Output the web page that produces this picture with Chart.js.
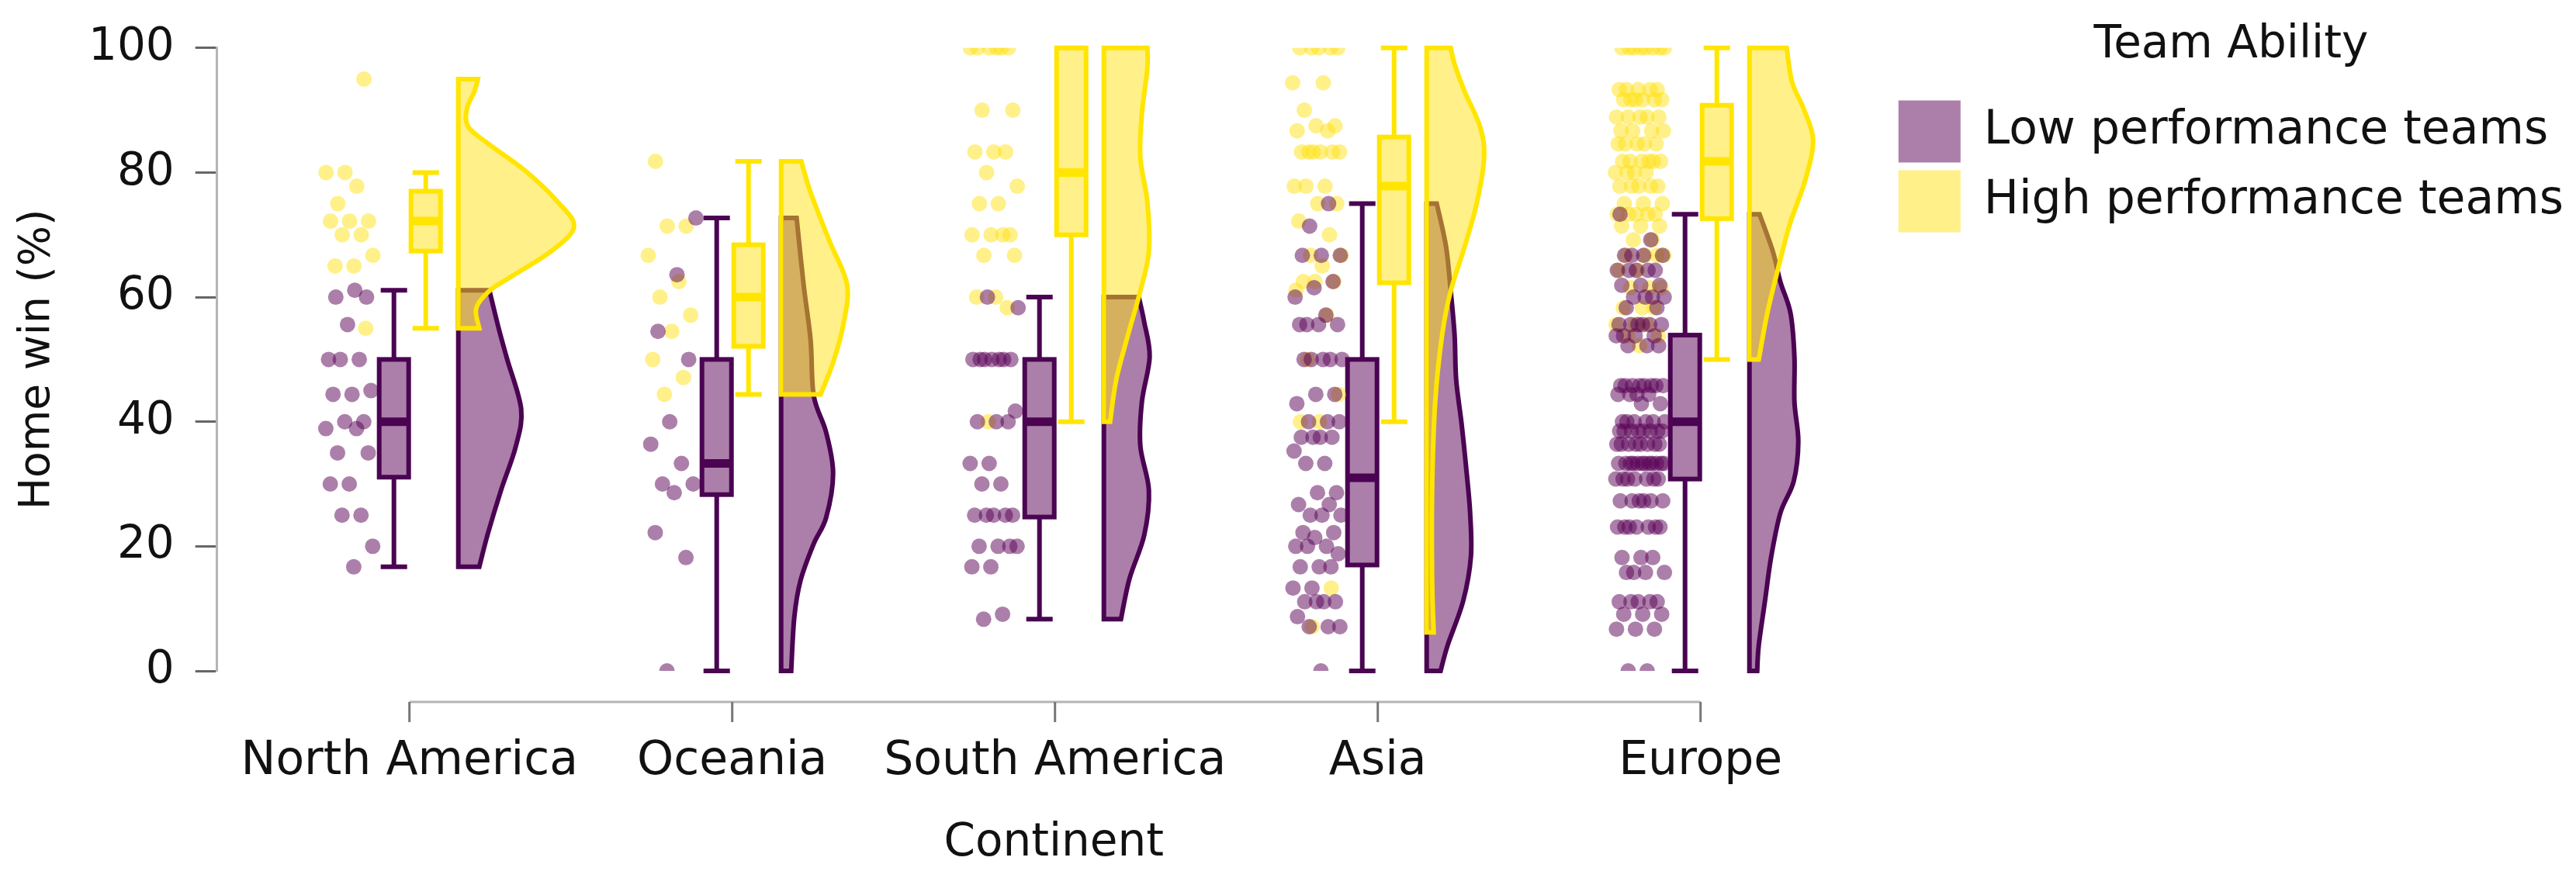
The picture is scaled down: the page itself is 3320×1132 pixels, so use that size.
<!DOCTYPE html>
<html>
<head>
<meta charset="utf-8">
<script src="https://cdn.jsdelivr.net/npm/chart.js@4.4.1/dist/chart.umd.min.js"></script>
<style>
  html, body { margin: 0; padding: 0; background: #fff; }
  #wrap { width: 3320px; height: 1132px; }
</style>
</head>
<body>
<div id="wrap"><canvas id="rain" width="3320" height="1132"></canvas></div>
<script>
const continents = ['North America', 'Oceania', 'South America', 'Asia', 'Europe'];
const yTicks = [0, 20, 40, 60, 80, 100];

// home win % per team (jittered dots)
const lowNorthAmerica = [61.1, 60, 60, 55.6, 50, 50, 50, 45, 44.4, 44.4, 40, 40, 38.9, 38.9, 35, 35, 30, 30, 25, 25, 20, 16.7];
const highNorthAmerica = [95, 80, 80, 77.8, 75, 72.2, 72.2, 72.2, 70, 70, 66.7, 65, 65, 55];
const lowOceania = [72.7, 63.6, 54.5, 50, 40, 36.4, 33.3, 30, 30, 28.6, 22.2, 18.2, 0];
const highOceania = [81.8, 71.4, 71.4, 66.7, 62.5, 60, 57.1, 54.5, 50, 47.1, 44.4];
const lowSouthAmerica = [60, 58.3, 50, 50, 50, 50, 50, 50, 50, 41.7, 40, 40, 40, 33.3, 33.3, 30, 30,
  25, 25, 25, 25, 25, 20, 20, 20, 20, 16.7, 16.7, 9.1, 8.3];
const highSouthAmerica = [100, 100, 100, 100, 100, 100, 90, 90, 83.3, 83.3, 83.3, 80, 77.8, 75, 75,
  70, 70, 70, 70, 66.7, 66.7, 60, 60, 58.3, 40];
const lowAsia = [75, 71.4, 66.7, 66.7, 66.7, 62.5, 61.5, 60, 57.1, 55.6, 55.6, 55.6, 55.6, 50, 50, 50, 50, 50,
  44.4, 44.4, 42.9, 40, 40, 40, 37.5, 37.5, 37.5, 37.5, 35.3, 33.3, 33.3, 28.6, 28.6, 26.7, 26.7,
  25, 25, 25, 22.2, 22.2, 21.4, 20, 20, 20, 18.8, 16.7, 16.7, 16.7, 13.3, 13.3,
  11.1, 11.1, 11.1, 11.1, 8.7, 7.1, 7.1, 7.1, 0];
const highAsia = [100, 100, 100, 100, 100, 94.4, 94.4, 90, 87.5, 87.5, 86.7, 86.7,
  83.3, 83.3, 83.3, 83.3, 83.3, 83.3, 77.8, 77.8, 77.8, 75, 75, 72.2, 70, 66.7, 66.7, 65,
  62.5, 62.5, 62.5, 61.1, 57.1, 50, 44.4, 40, 40, 13.3, 7.1];
const lowEurope = [73.3, 69.2, 66.7, 66.7, 66.7, 66.7, 64.3, 64.3, 64.3, 64.3, 64.3, 61.9, 61.9, 61.9,
  60, 60, 60, 60, 58.3, 58.3, 55.6, 55.6, 55.6, 55.6, 55.6, 55.6, 53.8, 53.8, 53.8, 53.8, 52.2, 52.2, 52.2,
  45.8, 45.8, 45.8, 45.8, 45.8, 45.8, 45.8, 45.8, 44.4, 44.4, 44.4, 44.4, 42.9, 42.9,
  40, 40, 40, 40, 40, 40, 38.5, 38.5, 38.5, 38.5, 38.5, 38.5, 38.5, 38.5,
  36.4, 36.4, 36.4, 36.4, 36.4, 36.4, 36.4, 36.4,
  33.3, 33.3, 33.3, 33.3, 33.3, 33.3, 33.3, 33.3, 33.3, 33.3, 33.3, 33.3,
  30.8, 30.8, 30.8, 30.8, 30.8, 30.8, 30.8, 27.3, 27.3, 27.3, 27.3, 27.3, 27.3,
  23.1, 23.1, 23.1, 23.1, 23.1, 23.1, 23.1, 18.2, 18.2, 18.2, 15.8, 15.8, 15.8, 15.8,
  11.1, 11.1, 11.1, 11.1, 11.1, 9.1, 9.1, 9.1, 6.7, 6.7, 6.7, 0, 0];
const highEurope = [100, 100, 100, 100, 100, 100, 100, 100, 93.3, 93.3, 93.3, 93.3, 93.3,
  91.7, 91.7, 91.7, 91.7, 91.7, 91.7, 88.9, 88.9, 88.9, 88.9, 88.9, 86.7, 86.7, 86.7, 86.7,
  84.6, 84.6, 84.6, 84.6, 84.6, 81.8, 81.8, 81.8, 81.8, 81.8, 81.8, 80, 80, 80, 80,
  77.8, 77.8, 77.8, 77.8, 77.8, 75, 75, 75, 73.3, 73.3, 73.3, 73.3, 73.3, 71.4, 71.4, 71.4,
  69.2, 69.2, 66.7, 66.7, 66.7, 66.7, 64.3, 64.3, 61.5, 61.5, 61.5, 58.3, 58.3, 58.3,
  55.6, 55.6, 55.6, 53.8, 53.8, 52.2];

// box plots (whisker low, Q1, median, Q3, whisker high), one entry per continent
const lowMin = [16.7, 0, 8.3, 0, 0];
const lowQ1 = [31.1, 28.3, 24.7, 17, 30.8];
const lowMed = [40, 33.3, 40, 31, 40];
const lowQ3 = [50, 50, 50, 50, 53.9];
const lowMax = [61.1, 72.7, 60, 75, 73.3];
const highMin = [55, 44.4, 40, 40, 50];
const highQ1 = [67.4, 52.1, 70, 62.3, 72.6];
const highMed = [72.2, 60, 80, 77.8, 81.8];
const highQ3 = [77, 68.4, 100, 85.7, 90.8];
const highMax = [80, 81.8, 100, 100, 100];

// half violins (the clouds): density read at a few levels
const lowViolinAt = [
  [16.7, 22, 29, 36, 42, 50, 55, 61.1],
  [0, 8.6, 14.5, 20.4, 24.6, 31.7, 38.3, 44.2, 53.1, 62, 72.7],
  [8.3, 14.8, 21.8, 29, 36.1, 43.2, 50.4, 56, 60],
  [0, 4.1, 11.2, 18.3, 25.4, 32.5, 39.7, 46.8, 53.9, 61, 68.1, 75],
  [0, 4.1, 11.2, 18.3, 25.4, 30.4, 36.8, 43.2, 50.4, 57.4, 62.4, 67.4, 73.3]
];
const lowViolinDensity = [
  [0.27, 0.38, 0.55, 0.74, 0.81, 0.63, 0.52, 0.40],
  [0.13, 0.17, 0.25, 0.42, 0.58, 0.67, 0.58, 0.42, 0.38, 0.29, 0.20],
  [0.22, 0.33, 0.52, 0.58, 0.47, 0.49, 0.59, 0.52, 0.45],
  [0.18, 0.27, 0.47, 0.57, 0.56, 0.51, 0.45, 0.38, 0.36, 0.31, 0.25, 0.13],
  [0.10, 0.12, 0.20, 0.28, 0.40, 0.57, 0.63, 0.58, 0.58, 0.53, 0.40, 0.30, 0.13]
];
const highViolinAt = [
  [55, 58.2, 61, 63.2, 67.4, 71.3, 75.3, 80.3, 84.5, 87.3, 90.2, 93.1, 95],
  [44.4, 49.5, 55.5, 62, 69.1, 76.8, 81.8],
  [40, 46.8, 53.9, 61, 67.4, 75.3, 82.4, 89.5, 96.6, 100],
  [6.2, 14.8, 29, 43.2, 54, 61, 68.1, 75.3, 82.4, 87.3, 93, 97.4, 100],
  [50, 57.4, 64.6, 71.7, 78.8, 85.2, 90.2, 94.5, 100]
];
const highViolinDensity = [
  [0.27, 0.23, 0.40, 0.67, 1.20, 1.49, 1.28, 0.86, 0.40, 0.13, 0.11, 0.21, 0.25],
  [0.51, 0.67, 0.80, 0.85, 0.62, 0.38, 0.26],
  [0.08, 0.16, 0.31, 0.47, 0.58, 0.56, 0.47, 0.49, 0.56, 0.56],
  [0.09, 0.07, 0.07, 0.11, 0.20, 0.31, 0.49, 0.65, 0.74, 0.69, 0.49, 0.36, 0.31],
  [0.12, 0.23, 0.37, 0.52, 0.72, 0.82, 0.70, 0.55, 0.48]
];

const FONT = 'DejaVu Sans';
const PURPLE = '#4a0452';
const PURPLE_FILL = 'rgba(90, 0, 85, 0.5)';
const YELLOW = '#ffe500';
const YELLOW_FILL = 'rgba(255, 226, 20, 0.5)';
const UNIT_PX = 416;             // px between two continents
const u = p => p / UNIT_PX;      // px -> x units

// fixed jitter so the rain is spread the same way every time
function jitter(i, g) {
  const f = ((i + 1) * 0.6180339887 + g * 0.37) % 1;
  return u(-78) + (f * 2 - 1) * u(32);
}

function toPoints(groups, shift) {
  const pts = [];
  groups.forEach((vals, g) => {
    vals.forEach((v, i) => pts.push({ x: g + jitter(i, g + shift), y: v }));
  });
  return pts;
}

function drawViolin(ctx, xs, ys, i, levels, dens, fill, stroke) {
  const start = i + u(63);
  const base = xs.getPixelForValue(start);
  const pts = levels.map((v, k) => [xs.getPixelForValue(start + dens[k] * u(100)), ys.getPixelForValue(v)]);
  ctx.beginPath();
  ctx.moveTo(base, pts[0][1]);
  ctx.lineTo(pts[0][0], pts[0][1]);
  for (let k = 0; k < pts.length - 1; k++) {
    const p0 = pts[Math.max(k - 1, 0)], p1 = pts[k], p2 = pts[k + 1], p3 = pts[Math.min(k + 2, pts.length - 1)];
    ctx.bezierCurveTo(
      p1[0] + (p2[0] - p0[0]) / 6, p1[1] + (p2[1] - p0[1]) / 6,
      p2[0] - (p3[0] - p1[0]) / 6, p2[1] - (p3[1] - p1[1]) / 6,
      p2[0], p2[1]);
  }
  ctx.lineTo(base, pts[pts.length - 1][1]);
  ctx.closePath();
  ctx.fillStyle = fill;
  ctx.fill();
  ctx.lineWidth = 6;
  ctx.lineJoin = 'miter';
  ctx.strokeStyle = stroke;
  ctx.stroke();
}

function drawBox(ctx, xs, ys, cx, stats, fill, stroke) {
  const [lo, q1, med, q3, hi] = stats.map(v => ys.getPixelForValue(v));
  const l = xs.getPixelForValue(cx - u(19)), r = xs.getPixelForValue(cx + u(19));
  const cl = xs.getPixelForValue(cx - u(17)), cr = xs.getPixelForValue(cx + u(17));
  const mid = xs.getPixelForValue(cx);
  ctx.strokeStyle = stroke;
  ctx.lineWidth = 6;
  ctx.beginPath();
  ctx.moveTo(mid, lo); ctx.lineTo(mid, q1);
  ctx.moveTo(mid, q3); ctx.lineTo(mid, hi);
  ctx.moveTo(cl, lo); ctx.lineTo(cr, lo);
  ctx.moveTo(cl, hi); ctx.lineTo(cr, hi);
  ctx.stroke();
  ctx.fillStyle = fill;
  ctx.fillRect(l, q3, r - l, q1 - q3);
  ctx.strokeRect(l, q3, r - l, q1 - q3);
  ctx.lineWidth = 11;
  ctx.beginPath();
  ctx.moveTo(l, med); ctx.lineTo(r, med);
  ctx.stroke();
}

const raincloud = {
  id: 'raincloud',
  beforeDatasetsDraw(chart) {
    const { ctx, scales: { x, y } } = chart;
    ctx.save();
    continents.forEach((c, i) => {
      drawViolin(ctx, x, y, i, lowViolinAt[i], lowViolinDensity[i], PURPLE_FILL, PURPLE);
      drawViolin(ctx, x, y, i, highViolinAt[i], highViolinDensity[i], YELLOW_FILL, YELLOW);
      drawBox(ctx, x, y, i - u(20), [lowMin[i], lowQ1[i], lowMed[i], lowQ3[i], lowMax[i]], PURPLE_FILL, PURPLE);
      drawBox(ctx, x, y, i + u(21), [highMin[i], highQ1[i], highMed[i], highQ3[i], highMax[i]], YELLOW_FILL, YELLOW);
    });
    ctx.restore();
  },
  afterDraw(chart) {
    // x axis line only spans first to last continent, a bit below the plot
    const { ctx, scales: { x } } = chart;
    const yLine = chart.chartArea.bottom + 40;
    ctx.save();
    ctx.strokeStyle = '#b5b5b5';
    ctx.lineWidth = 3;
    ctx.beginPath();
    ctx.moveTo(x.getPixelForValue(0), yLine);
    ctx.lineTo(x.getPixelForValue(continents.length - 1), yLine);
    ctx.stroke();
    ctx.strokeStyle = '#777';
    ctx.beginPath();
    continents.forEach((c, i) => {
      ctx.moveTo(x.getPixelForValue(i), yLine);
      ctx.lineTo(x.getPixelForValue(i), yLine + 26);
    });
    ctx.stroke();
    ctx.restore();
  }
};

const lowPoints = toPoints([lowNorthAmerica, lowOceania, lowSouthAmerica, lowAsia, lowEurope], 0);
const highPoints = toPoints([highNorthAmerica, highOceania, highSouthAmerica, highAsia, highEurope], 0.5);

const chart = new Chart(document.getElementById('rain').getContext('2d'), {
  type: 'scatter',
  data: {
    datasets: [
      { label: 'Low performance teams', data: lowPoints, xAxisID: 'x', yAxisID: 'y',
        backgroundColor: PURPLE_FILL, borderWidth: 0, pointRadius: 10 },
      { label: 'High performance teams', data: highPoints, xAxisID: 'x', yAxisID: 'y',
        backgroundColor: YELLOW_FILL, borderWidth: 0, pointRadius: 10 }
    ]
  },
  options: {
    responsive: false,
    animation: false,
    events: [],
    devicePixelRatio: 1,
    layout: { padding: { left: 10, top: 10, right: 6, bottom: 9 } },
    scales: {
      x: {
        type: 'linear',
        min: -0.6,
        max: 4.6,
        afterBuildTicks: axis => { axis.ticks = continents.map((c, i) => ({ value: i })); },
        afterFit: axis => { axis.height = 258; },
        ticks: { callback: v => continents[v], color: '#111', font: { family: FONT, size: 60 }, padding: 81, maxRotation: 0 },
        grid: { display: false, drawTicks: false },
        border: { display: false },
        title: { display: true, text: 'Continent', color: '#111', font: { family: FONT, size: 58 }, padding: { top: 0, bottom: 0 } }
      },
      xTop: {
        type: 'linear',
        axis: 'x',
        position: 'top',
        ticks: { display: false },
        grid: { display: false, drawTicks: false },
        border: { display: false },
        afterFit: axis => { axis.height = 49; }
      },
      y: {
        min: 0,
        max: 100,
        afterBuildTicks: axis => { axis.ticks = yTicks.map(v => ({ value: v })); },
        ticks: { color: '#111', font: { family: FONT, size: 58 }, padding: 27 },
        grid: { drawOnChartArea: false, tickLength: 28, tickWidth: 3, tickColor: '#666' },
        border: { color: '#b5b5b5', width: 3 },
        title: { display: true, text: 'Home win (%)', color: '#111', font: { family: FONT, size: 55 }, padding: { top: 6, bottom: 5 } }
      }
    },
    plugins: {
      tooltip: { enabled: false },
      legend: {
        position: 'right',
        align: 'start',
        maxWidth: 900,
        title: { display: true, text: 'Team Ability', color: '#111', font: { family: FONT, size: 58 }, padding: { top: 20, bottom: 20 } },
        labels: { boxWidth: 80, boxHeight: 80, padding: 10, color: '#111', font: { family: FONT, size: 60 } }
      }
    }
  },
  plugins: [raincloud]
});

// first continent sits 248 px right of the y axis, one continent every UNIT_PX
const area = chart.chartArea;
chart.options.scales.x.min = -u(248);
chart.options.scales.x.max = -u(248) + (area.right - area.left) / UNIT_PX;
chart.update();
</script>
</body>
</html>
